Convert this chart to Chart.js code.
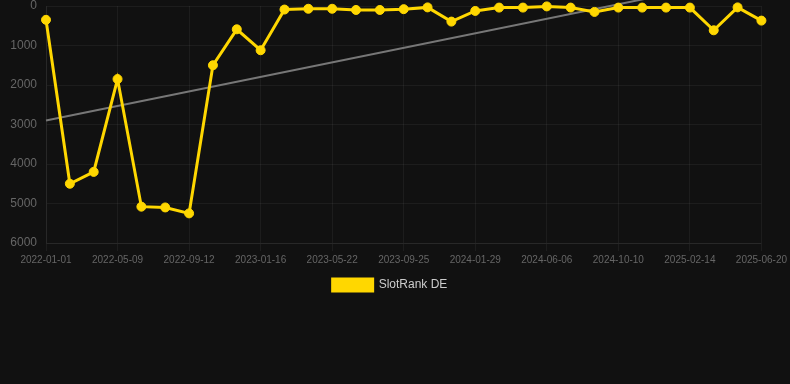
<!DOCTYPE html>
<html>
<head>
<meta charset="utf-8">
<script src="https://cdn.jsdelivr.net/npm/chart.js@4/dist/chart.umd.min.js"></script>
<style>
  html, body { margin: 0; padding: 0; background: #111111; }
  #wrap { position: relative; width: 790px; height: 301px; }
</style>
</head>
<body>
<div id="wrap"><canvas id="c"></canvas></div>
<script>
const categories = [
  "2022-01-01","2022-02-12","2022-03-26","2022-05-09","2022-06-20","2022-08-01",
  "2022-09-12","2022-10-24","2022-12-05","2023-01-16","2023-02-27","2023-04-10",
  "2023-05-22","2023-07-03","2023-08-14","2023-09-25","2023-11-06","2023-12-18",
  "2024-01-29","2024-03-11","2024-04-23","2024-06-06","2024-07-18","2024-08-29",
  "2024-10-10","2024-11-21","2025-01-02","2025-02-14","2025-03-28","2025-05-09",
  "2025-06-20"
];
const slotRankDE = [
  350, 4500, 4200, 1850, 5080, 5100, 5250, 1500, 590, 1120,
  90, 70, 70, 100, 100, 80, 35, 395, 125, 40,
  40, 10, 40, 150, 40, 40, 40, 40, 615, 35, 370
];
const trendStart = 2900;
const trendEnd = -780;
const trend = categories.map((_, i) => i === 0 ? trendStart : (i === categories.length - 1 ? trendEnd : null));
const yTicks = [0, 1000, 2000, 3000, 4000, 5000, 6000];

new Chart(document.getElementById('c'), {
  type: 'line',
  data: {
    labels: categories,
    datasets: [
      {
        label: 'SlotRank DE',
        data: slotRankDE,
        borderColor: '#FFD700',
        backgroundColor: '#FFD700',
        borderWidth: 3,
        pointRadius: 4.5,
        pointBorderWidth: 1,
        pointHoverRadius: 4.5,
        pointBackgroundColor: '#FFD700',
        pointBorderColor: '#FFD700',
        tension: 0,
        clip: false
      },
      {
        label: 'trend',
        data: trend,
        spanGaps: true,
        borderColor: '#777777',
        borderWidth: 2,
        pointRadius: 0,
        fill: false,
        clip: false
      }
    ]
  },
  options: {
    responsive: true,
    maintainAspectRatio: false,
    animation: false,
    layout: { padding: { top: 6, right: 10, left: 0, bottom: 0 } },
    plugins: {
      legend: {
        position: 'bottom',
        labels: {
          color: '#cccccc',
          font: { family: 'Liberation Sans, Arial, sans-serif', size: 12 },
          boxWidth: 40,
          boxHeight: 12,
          filter: (item) => item.text === 'SlotRank DE'
        }
      },
      tooltip: { enabled: false }
    },
    scales: {
      x: {
        grid: { color: 'rgba(255,255,255,0.05)' },
        border: { color: 'rgba(255,255,255,0.05)' },
        ticks: {
          autoSkip: false,
          maxRotation: 0,
          color: '#666666',
          font: { family: 'Liberation Sans, Arial, sans-serif', size: 10 },
          callback: function(v, i) { return i % 3 === 0 ? categories[i] : null; }
        }
      },
      y: {
        reverse: true,
        min: 0,
        max: 6000,
        afterBuildTicks: (s) => { s.ticks = yTicks.map(v => ({ value: v })); },
        afterFit: (s) => { s.width = 46; s.paddingTop = 0; },
        grid: { color: 'rgba(255,255,255,0.05)', drawTicks: false },
        border: { color: 'rgba(255,255,255,0.05)' },
        ticks: {
          padding: 9,
          color: '#666666',
          font: { family: 'Liberation Sans, Arial, sans-serif', size: 12 },
          callback: (v) => String(v)
        }
      }
    }
  }
});
</script>
</body>
</html>
